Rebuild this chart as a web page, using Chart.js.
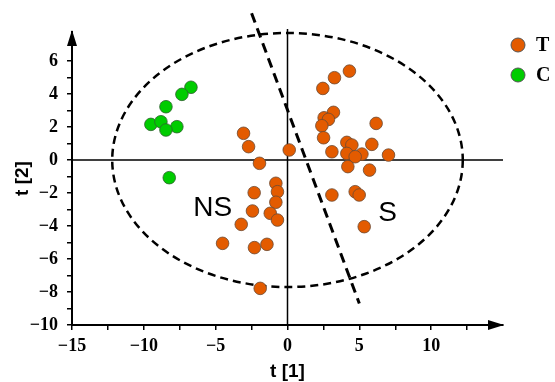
<!DOCTYPE html>
<html>
<head>
<meta charset="utf-8">
<script src="https://cdn.jsdelivr.net/npm/chart.js@4.4.1/dist/chart.umd.min.js"></script>
<style>
  html, body { margin: 0; padding: 0; background: #fff; }
  .chart-box { position: relative; width: 555px; height: 382px; }
</style>
</head>
<body>
<div class="chart-box"><canvas id="score-plot"></canvas></div>
<script>
// Score plot data - t[1] / t[2]
const groupT = [
  { x: -3.06, y: 1.62 }, { x: -2.71, y: 0.81 }, { x: -1.95, y: -0.20 }, { x: 0.12, y: 0.61 },
  { x: -0.81, y: -1.41 }, { x: -0.70, y: -1.92 }, { x: -2.32, y: -1.98 }, { x: -0.81, y: -2.56 },
  { x: -2.44, y: -3.09 }, { x: -1.20, y: -3.23 }, { x: -0.70, y: -3.64 }, { x: -3.22, y: -3.90 },
  { x: -1.43, y: -5.11 }, { x: -2.30, y: -5.31 }, { x: -1.90, y: -7.78 }, { x: -4.52, y: -5.05 },
  { x: 4.31, y: 5.39 }, { x: 3.27, y: 4.99 }, { x: 2.46, y: 4.34 }, { x: 3.20, y: 2.89 },
  { x: 2.55, y: 2.56 }, { x: 2.85, y: 2.46 }, { x: 2.39, y: 2.08 }, { x: 2.51, y: 1.35 },
  { x: 6.17, y: 2.22 }, { x: 3.09, y: 0.50 }, { x: 4.13, y: 1.07 }, { x: 4.48, y: 0.91 },
  { x: 5.87, y: 0.95 }, { x: 4.13, y: 0.40 }, { x: 5.18, y: 0.36 }, { x: 4.71, y: 0.20 },
  { x: 7.03, y: 0.30 }, { x: 4.20, y: -0.40 }, { x: 5.71, y: -0.61 }, { x: 3.09, y: -2.12 },
  { x: 4.71, y: -1.92 }, { x: 4.99, y: -2.12 }, { x: 5.34, y: -4.04 }
]
const groupC = [
  { x: -6.72, y: 4.41 }, { x: -7.35, y: 3.98 }, { x: -8.46, y: 3.23 }, { x: -9.51, y: 2.16 },
  { x: -8.81, y: 2.32 }, { x: -7.70, y: 2.02 }, { x: -8.46, y: 1.82 }, { x: -8.23, y: -1.07 }
]
const xTicks = [-15, -12.5, -10, -7.5, -5, -2.5, 0, 2.5, 5, 7.5, 10, 12.5]
const yTicks = [-10, -9, -8, -7, -6, -5, -4, -3, -2, -1, 0, 1, 2, 3, 4, 5, 6]
const splitLine = [{ x: -2.5, y: 8.9 }, { x: 5.0, y: -8.7 }]
const ellipseRadius = { x: 12.2, y: 7.7 }
const regionLabels = [
  { text: 'NS', x: -5.2, y: -2.9 },
  { text: 'S', x: 6.97, y: -3.2 }
]

const orange = '#e35b00'
const green = '#00cc00'
const fmt = (v) => String(v).replace('-', '\u2212')

// Extra drawing: zero lines, ellipse, arrows, labels, legend
const scorePlotExtras = {
  id: 'scorePlotExtras',
  beforeDatasetsDraw(chart) {
    const { ctx, chartArea: area, scales: { x, y } } = chart
    const x0 = x.getPixelForValue(0)
    const y0 = y.getPixelForValue(0)
    ctx.save()
    ctx.strokeStyle = '#000'
    ctx.lineWidth = 1.5
    ctx.beginPath()
    ctx.moveTo(area.left, y0)
    ctx.lineTo(area.right, y0)
    ctx.moveTo(x0, area.top - 3)
    ctx.lineTo(x0, area.bottom)
    ctx.stroke()

    const rx = x.getPixelForValue(ellipseRadius.x) - x0
    const ry = y0 - y.getPixelForValue(ellipseRadius.y)
    ctx.setLineDash([8, 5])
    ctx.lineWidth = 2.5
    ctx.beginPath()
    ctx.ellipse(x0, y0, rx, ry, 0, 0, Math.PI * 2)
    ctx.stroke()
    ctx.restore()
  },
  afterDraw(chart) {
    const { ctx, chartArea: area, scales: { x, y } } = chart
    ctx.save()
    ctx.fillStyle = '#000'
    // y axis arrow
    ctx.beginPath()
    ctx.moveTo(area.left, area.top - 2)
    ctx.lineTo(area.left - 5, area.top + 14)
    ctx.lineTo(area.left + 5, area.top + 14)
    ctx.closePath()
    ctx.fill()
    // x axis arrow
    ctx.beginPath()
    ctx.moveTo(area.right + 1, area.bottom)
    ctx.lineTo(area.right - 15, area.bottom - 5)
    ctx.lineTo(area.right - 15, area.bottom + 5)
    ctx.closePath()
    ctx.fill()

    // region labels
    ctx.font = '28px "Liberation Sans", Arial, sans-serif'
    ctx.textAlign = 'center'
    ctx.textBaseline = 'middle'
    regionLabels.forEach((item) => {
      ctx.fillText(item.text, x.getPixelForValue(item.x), y.getPixelForValue(item.y))
    })

    // legend
    const legendSets = chart.data.datasets.filter((ds) => ds.label)
    ctx.font = 'bold 20px "Liberation Serif", "Times New Roman", serif'
    ctx.textAlign = 'left'
    legendSets.forEach((ds, i) => {
      const cy = 45 + i * 30
      ctx.beginPath()
      ctx.arc(518, cy, 7, 0, Math.PI * 2)
      ctx.fillStyle = ds.backgroundColor
      ctx.fill()
      ctx.lineWidth = 1
      ctx.strokeStyle = '#555'
      ctx.stroke()
      ctx.fillStyle = '#000'
      ctx.fillText(ds.label, 536, cy + 1)
    })
    ctx.restore()
  }
}

const scorePlot = document.querySelector('#score-plot')
if (scorePlot) {
  new Chart(scorePlot, {
    type: 'scatter',
    data: {
      datasets: [
        {
          data: splitLine,
          showLine: true,
          borderColor: '#000',
          borderWidth: 3,
          borderDash: [10, 6],
          pointRadius: 0,
          clip: false
        },
        {
          label: 'T',
          data: groupT,
          backgroundColor: orange,
          borderColor: '#6b4a33',
          borderWidth: 0.8,
          pointRadius: 6.3
        },
        {
          label: 'C',
          data: groupC,
          backgroundColor: green,
          borderColor: '#2f5f2f',
          borderWidth: 0.8,
          pointRadius: 6.3
        }
      ]
    },
    options: {
      responsive: true,
      maintainAspectRatio: false,
      animation: false,
      layout: {
        padding: { top: 32, right: 52, left: 0, bottom: 0 }
      },
      plugins: {
        legend: { display: false },
        tooltip: { enabled: false }
      },
      scales: {
        x: {
          type: 'linear',
          min: -15,
          max: 15,
          afterBuildTicks: (scale) => {
            scale.ticks = xTicks.map((v) => ({ value: v }))
          },
          afterFit: (scale) => {
            scale.height = 57
          },
          border: { display: true, color: '#000', width: 2 },
          grid: { drawOnChartArea: false, color: '#000', tickLength: 5, lineWidth: 1.5 },
          ticks: {
            color: '#000',
            padding: 6,
            maxRotation: 0,
            autoSkip: false,
            font: { family: '"Liberation Serif", "Times New Roman", serif', weight: 'bold', size: 18 },
            callback: (v) => (v % 5 === 0 ? fmt(v) : '')
          },
          title: {
            display: true,
            text: 't [1]',
            color: '#000',
            padding: { top: 0, bottom: -1 },
            font: { family: '"Liberation Sans", Arial, sans-serif', weight: 'bold', size: 19 }
          }
        },
        y: {
          type: 'linear',
          min: -10,
          max: 7.76,
          afterBuildTicks: (scale) => {
            scale.ticks = yTicks.map((v) => ({ value: v }))
          },
          afterFit: (scale) => {
            scale.width = 72
          },
          border: { display: true, color: '#000', width: 2 },
          grid: { drawOnChartArea: false, color: '#000', tickLength: 5, lineWidth: 1.5 },
          ticks: {
            color: '#000',
            padding: 9,
            autoSkip: false,
            font: { family: '"Liberation Serif", "Times New Roman", serif', weight: 'bold', size: 18 },
            callback: (v) => (v % 2 === 0 ? fmt(v) : '')
          },
          title: {
            display: true,
            text: 't [2]',
            color: '#000',
            padding: { top: 11, bottom: 0 },
            font: { family: '"Liberation Sans", Arial, sans-serif', weight: 'bold', size: 19 }
          }
        }
      }
    },
    plugins: [scorePlotExtras]
  })
}
</script>
</body>
</html>
